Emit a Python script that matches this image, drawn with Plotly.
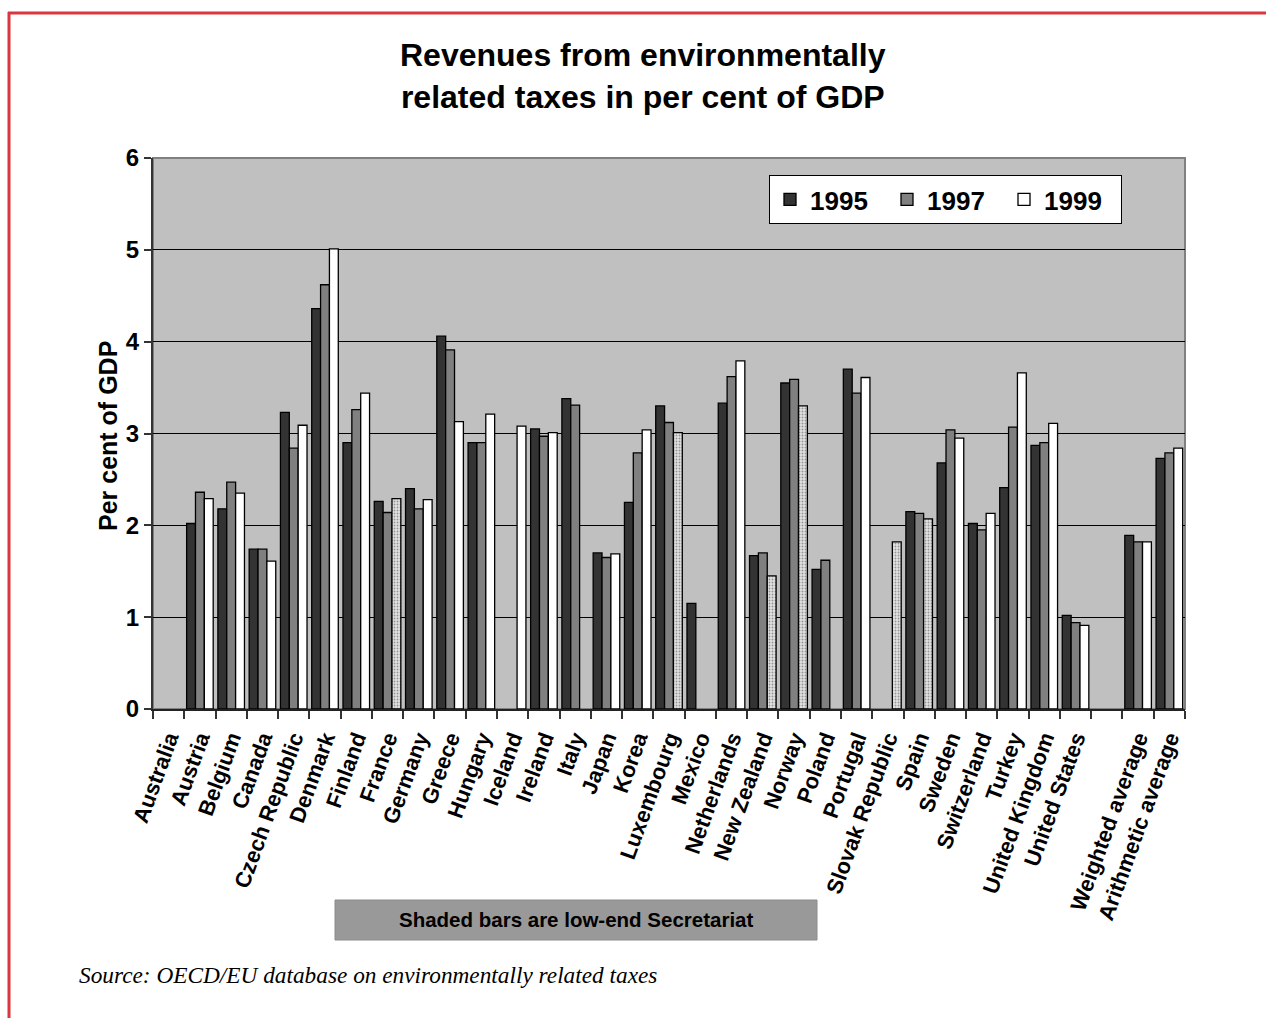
import plotly.graph_objects as go

categories = ["Australia", "Austria", "Belgium", "Canada", "Czech Republic", "Denmark",
              "Finland", "France", "Germany", "Greece", "Hungary", "Iceland", "Ireland",
              "Italy", "Japan", "Korea", "Luxembourg", "Mexico", "Netherlands",
              "New Zealand", "Norway", "Poland", "Portugal", "Slovak Republic", "Spain",
              "Sweden", "Switzerland", "Turkey", "United Kingdom", "United States", " ",
              "Weighted average", "Arithmetic average"]

v1995 = [None, 2.02, 2.18, 1.74, 3.23, 4.36, 2.90, 2.26, 2.40, 4.06, 2.90, None, 3.05,
         3.38, 1.70, 2.25, 3.30, 1.15, 3.33, 1.67, 3.55, 1.52, 3.70, None, 2.15,
         2.68, 2.02, 2.41, 2.87, 1.02, None, 1.89, 2.73]
v1997 = [None, 2.36, 2.47, 1.74, 2.84, 4.62, 3.26, 2.14, 2.18, 3.91, 2.90, None, 2.97,
         3.31, 1.65, 2.79, 3.12, None, 3.62, 1.70, 3.59, 1.62, 3.44, None, 2.13,
         3.04, 1.95, 3.07, 2.90, 0.94, None, 1.82, 2.79]
v1999 = [None, 2.29, 2.35, 1.61, 3.09, 5.01, 3.44, 2.29, 2.28, 3.13, 3.21, 3.08, 3.01,
         None, 1.69, 3.04, 3.01, None, 3.79, 1.45, 3.30, None, 3.61, 1.82, 2.07,
         2.95, 2.13, 3.66, 3.11, 0.91, None, 1.82, 2.84]
# 1999 bars that are low-end Secretariat estimates (shaded)
shaded_1999 = ["France", "Luxembourg", "New Zealand", "Norway", "Slovak Republic", "Spain"]
y_ticks = [0, 1, 2, 3, 4, 5, 6]

W, H = 1266, 1018
L, R, T, B = 153, 1185, 158, 709


def px(x):
    return (x - L) / (R - L)


def py(y):
    return (B - y) / (B - T)


FONT = "Liberation Sans, Arial, sans-serif"

fig = go.Figure()
fig.add_trace(go.Bar(name="<b>1995</b>", x=categories, y=v1995,
                     marker=dict(color="#333333", line=dict(color="#000000", width=1.3))))
fig.add_trace(go.Bar(name="<b>1997</b>", x=categories, y=v1997,
                     marker=dict(color="#808080", line=dict(color="#000000", width=1.3))))
colors99 = ["#e2e2e2" if c in shaded_1999 else "#ffffff" for c in categories]
shapes99 = ["." if c in shaded_1999 else "" for c in categories]
fig.add_trace(go.Bar(name="<b>1999</b>", x=categories, y=v1999,
                     marker=dict(color=colors99, line=dict(color="#000000", width=1.3),
                                 pattern=dict(shape=shapes99, fillmode="overlay",
                                              fgcolor="#9a9a9a", size=3, solidity=0.3))))

shapes = [
    # plot area frame
    dict(type="rect", xref="paper", yref="paper", x0=0, x1=1, y0=0, y1=1,
         line=dict(color="#808080", width=2), layer="below"),
    # red page border
    dict(type="line", xref="paper", yref="paper", x0=px(9), x1=px(9), y0=py(12), y1=py(1020),
         line=dict(color="#d9363e", width=3)),
    dict(type="line", xref="paper", yref="paper", x0=px(8), x1=px(1270), y0=py(13), y1=py(13),
         line=dict(color="#d9363e", width=3)),
    # note box
    dict(type="rect", xref="paper", yref="paper", x0=px(335), x1=px(817), y0=py(940), y1=py(900),
         fillcolor="#999999", line=dict(color="#8c8c8c", width=1)),
]

annotations = [
    dict(text="<b>Revenues from environmentally<br>related taxes in per cent of GDP</b>",
         xref="paper", yref="paper", x=px(643), y=py(76), showarrow=False,
         xanchor="center", yanchor="middle", font=dict(family=FONT, size=32, color="#000")),
    dict(text="<b>Per cent of GDP</b>", xref="paper", yref="paper", x=px(108), y=py(436),
         showarrow=False, textangle=-90, xanchor="center", yanchor="middle",
         font=dict(family=FONT, size=25, color="#000")),
    dict(text="<b>Shaded bars are low-end Secretariat</b>", xref="paper", yref="paper",
         x=px(576), y=py(919), showarrow=False, xanchor="center", yanchor="middle",
         font=dict(family=FONT, size=20.5, color="#000")),
    dict(text="<i>Source: OECD/EU database on environmentally related taxes</i>",
         xref="paper", yref="paper", x=px(77), y=py(975), showarrow=False,
         xanchor="left", yanchor="middle",
         font=dict(family="Liberation Serif, Times New Roman, serif", size=23.3, color="#000")),
]

fig.update_layout(
    width=W, height=H,
    margin=dict(l=L, r=W - R, t=T, b=H - B, pad=0),
    paper_bgcolor="#ffffff", plot_bgcolor="#c0c0c0",
    barmode="group", bargap=0.15, bargroupgap=0,
    showlegend=True,
    legend=dict(orientation="h", x=px(769), y=py(175), xanchor="left", yanchor="top",
                bgcolor="#ffffff", bordercolor="#000000", borderwidth=1,
                font=dict(family=FONT, size=26, color="#000"),
                entrywidth=72, entrywidthmode="pixels", itemwidth=30,
                traceorder="normal"),
    shapes=shapes, annotations=annotations,
    font=dict(family=FONT, color="#000"),
)
fig.update_xaxes(
    type="category", categoryorder="array", categoryarray=categories,
    tickmode="array", tickvals=categories, ticktext=["<b>%s</b>" % c for c in categories],
    tickangle=-70, ticks="outside", tickson="boundaries", ticklen=8, tickcolor="#333",
    tickwidth=1.5, showline=True, linecolor="#222", linewidth=1.5, showgrid=False,
    ticklabelstandoff=6,
    tickfont=dict(family=FONT, size=22, color="#000"),
)
fig.update_yaxes(
    range=[0, 6], tickmode="array", tickvals=y_ticks,
    ticktext=["<b>%d</b>" % v for v in y_ticks],
    ticks="outside", ticklen=7, tickcolor="#333", tickwidth=1.5,
    showline=True, linecolor="#333", linewidth=2, showgrid=True, gridcolor="#000000",
    gridwidth=1, zeroline=False,
    tickfont=dict(family=FONT, size=24, color="#000"),
)

fig.write_html("out.html")
